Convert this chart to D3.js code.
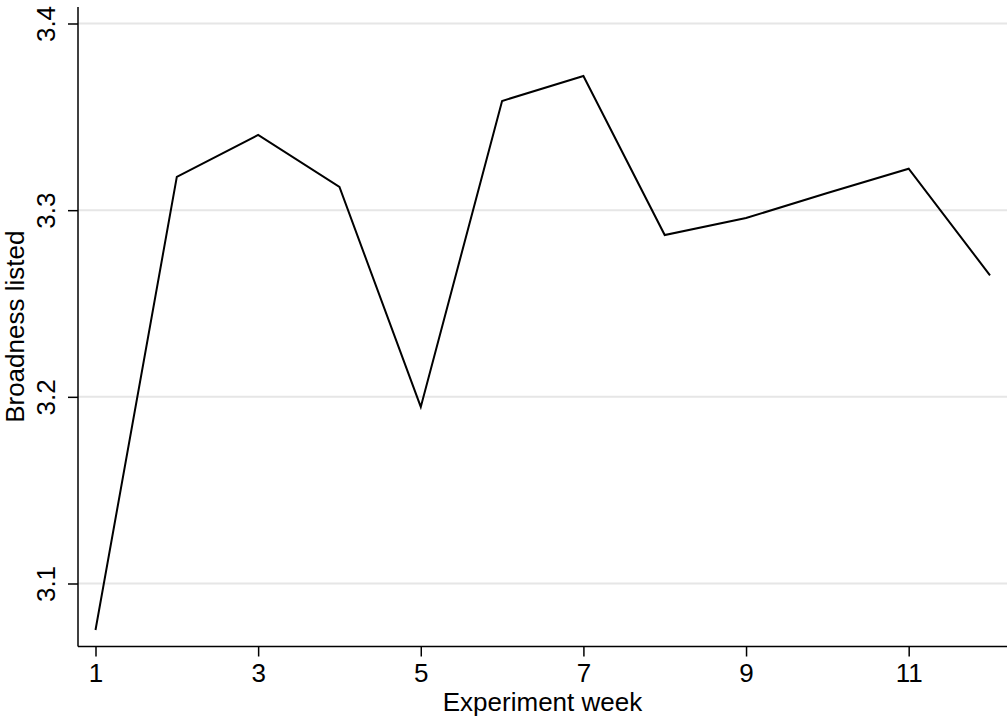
<!DOCTYPE html>
<html>
<head>
<meta charset="utf-8">
<script src="https://cdn.jsdelivr.net/npm/d3@7"></script>
<style>
  body { margin: 0; background: #fff; }
  text { font-family: "Liberation Sans", Arial, sans-serif; fill: #000; }
</style>
</head>
<body>
<div id="area"></div>
<script>
var weeks = [1, 2, 3, 4, 5, 6, 7, 8, 9, 10, 11, 12];
var broadness = [3.0751, 3.3178, 3.3403, 3.3124, 3.1946, 3.3585, 3.3719, 3.2867, 3.2958, 3.3092, 3.3222, 3.2651];
var xTicks = [1, 3, 5, 7, 9, 11];
var yTicks = [3.1, 3.2, 3.3, 3.4];

var width = 1007,
    height = 719;

var plotLeft = 78, plotRight = 1007, plotTop = 7, plotBottom = 646.5;
var tick_font = "26px",
    title_font = "26px";

var svg = d3.select("#area").append("svg")
    .attr("width", width)
    .attr("height", height);

var x = d3.scaleLinear().domain([1, 12]).range([95.5, 990]);
var y = d3.scaleLinear().domain([3.1, 3.4]).range([583.5, 23.5]);

// gridlines
svg.append("g").selectAll("line")
    .data(yTicks)
  .enter().append("line")
    .attr("x1", plotLeft).attr("x2", plotRight)
    .attr("y1", function(d) { return y(d); })
    .attr("y2", function(d) { return y(d); })
    .attr("stroke", "#e6e6e6")
    .attr("stroke-width", 2);

// y axis
var yAxis = svg.append("g")
    .attr("transform", "translate(" + plotLeft + ",0)")
    .call(d3.axisLeft(y).tickValues(yTicks).tickSize(10).tickFormat(d3.format(".1f")));
yAxis.select(".domain").remove();
yAxis.append("line")
    .attr("x1", 0).attr("x2", 0).attr("y1", plotTop).attr("y2", plotBottom)
    .attr("stroke", "#000").attr("stroke-width", 1.5);
yAxis.selectAll(".tick line").attr("stroke-width", 1.5);
yAxis.selectAll(".tick text")
    .style("font-size", tick_font)
    .style("font-family", "Liberation Sans, Arial, sans-serif")
    .attr("text-anchor", "middle")
    .attr("x", 0)
    .attr("y", 0)
    .attr("dy", null)
    .attr("transform", "translate(-23,0) rotate(-90)");

// x axis
var xAxis = svg.append("g")
    .attr("transform", "translate(0," + plotBottom + ")")
    .call(d3.axisBottom(x).tickValues(xTicks).tickSize(10));
xAxis.select(".domain").remove();
xAxis.append("line")
    .attr("x1", plotLeft).attr("x2", plotRight).attr("y1", 0).attr("y2", 0)
    .attr("stroke", "#000").attr("stroke-width", 1.5);
xAxis.selectAll(".tick line").attr("stroke-width", 1.5);
xAxis.selectAll(".tick text")
    .style("font-size", tick_font)
    .style("font-family", "Liberation Sans, Arial, sans-serif")
    .attr("y", 35.5)
    .attr("dy", null);

// the line
var line = d3.line()
    .x(function(d, i) { return x(weeks[i]); })
    .y(function(d) { return y(d); });

svg.append("path")
    .datum(broadness)
    .attr("d", line)
    .attr("fill", "none")
    .attr("stroke", "#000")
    .attr("stroke-width", 2)
    .attr("stroke-linejoin", "miter");

// axis titles
svg.append("text")
    .attr("x", (plotLeft + plotRight) / 2)
    .attr("y", 711)
    .attr("text-anchor", "middle")
    .style("font-size", title_font)
    .text("Experiment week");

svg.append("text")
    .attr("transform", "translate(24," + ((plotTop + plotBottom) / 2) + ") rotate(-90)")
    .attr("text-anchor", "middle")
    .style("font-size", title_font)
    .text("Broadness listed");
</script>
</body>
</html>
